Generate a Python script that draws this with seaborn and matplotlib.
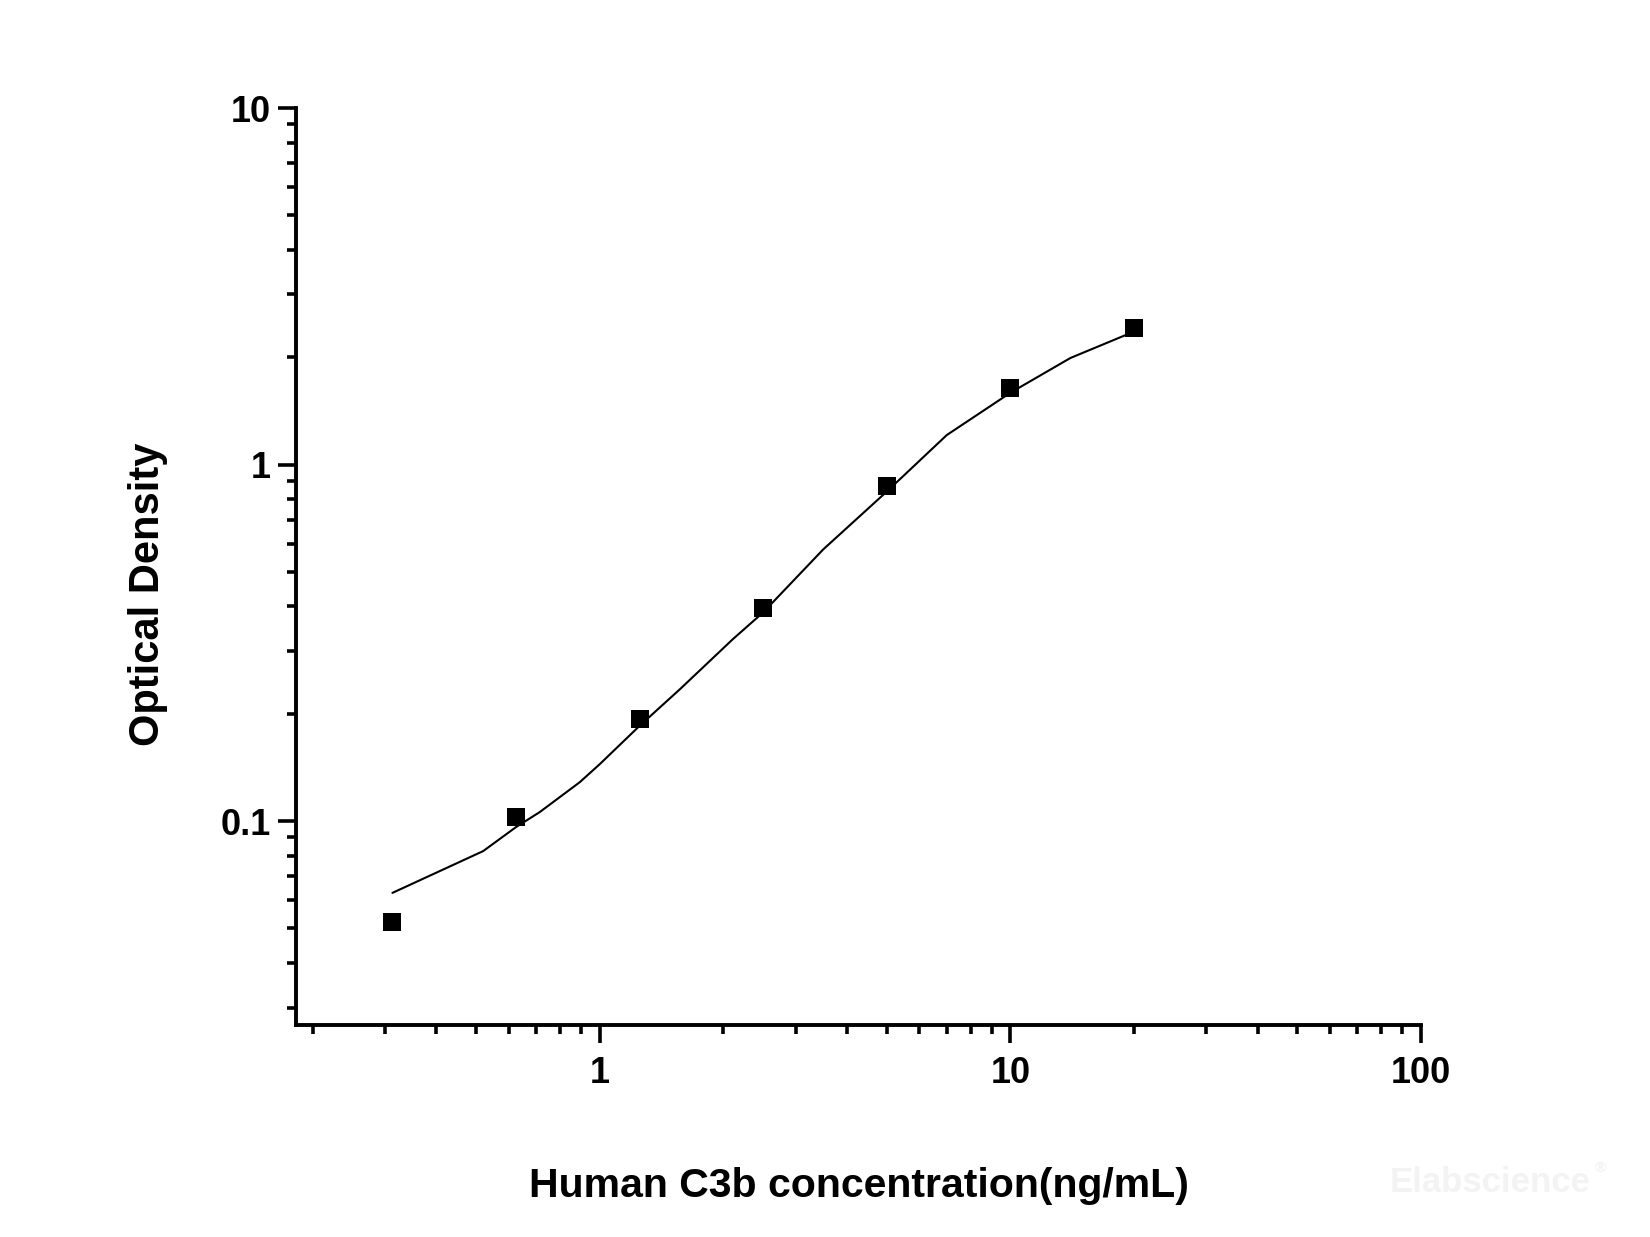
import matplotlib
matplotlib.use("Agg")
import matplotlib.pyplot as plt
import matplotlib.ticker as mticker
import seaborn as sns
import pandas as pd

# Standard points
conc = [0.3125, 0.625, 1.25, 2.5, 5, 10, 20]
od = [0.052, 0.103, 0.193, 0.395, 0.873, 1.64, 2.42]

# Fitted curve
curve_x = [0.3125, 0.52, 0.625, 0.714, 0.894, 1.0, 1.25, 1.565, 2.11, 2.5, 3.5, 5, 7, 10, 14, 20]
curve_y = [0.0629, 0.0824, 0.0962, 0.106, 0.1286, 0.1445, 0.185, 0.234, 0.324, 0.385, 0.578, 0.84, 1.21, 1.59, 1.99, 2.36]

x_ticks = [1, 10, 100]
x_tick_labels = ["1", "10", "100"]
y_ticks = [0.1, 1, 10]
y_tick_labels = ["0.1", "1", "10"]

pts = pd.DataFrame({"x": conc, "y": od})
crv = pd.DataFrame({"x": curve_x, "y": curve_y})

sns.set_style("ticks")
plt.rcParams["font.family"] = ["Liberation Sans", "DejaVu Sans"]
plt.rcParams["font.weight"] = "bold"
for k in ["text.color", "axes.labelcolor", "xtick.color", "ytick.color", "axes.edgecolor"]:
    plt.rcParams[k] = "black"

fig = plt.figure(figsize=(16.5, 12.37), dpi=100)
ax = fig.add_axes([296 / 1650, 1 - 1025 / 1237, (1421 - 296) / 1650, (1025 - 108) / 1237])

sns.lineplot(data=crv, x="x", y="y", ax=ax, color="black", linewidth=1.5, sort=False)
sns.scatterplot(data=pts, x="x", y="y", ax=ax, marker="s", s=150, color="black",
                edgecolor="black", linewidth=0, zorder=3)

ax.set_xscale("log")
ax.set_yscale("log")
ax.set_xlim(0.182, 100)
ax.set_ylim(0.0268, 10)

ax.xaxis.set_major_locator(mticker.FixedLocator(x_ticks))
ax.xaxis.set_major_formatter(mticker.FixedFormatter(x_tick_labels))
ax.yaxis.set_major_locator(mticker.FixedLocator(y_ticks))
ax.yaxis.set_major_formatter(mticker.FixedFormatter(y_tick_labels))
ax.xaxis.set_minor_locator(mticker.LogLocator(base=10, subs=range(2, 10), numticks=20))
ax.yaxis.set_minor_locator(mticker.LogLocator(base=10, subs=range(2, 10), numticks=20))
ax.xaxis.set_minor_formatter(mticker.NullFormatter())
ax.yaxis.set_minor_formatter(mticker.NullFormatter())

for s in ["top", "right"]:
    ax.spines[s].set_visible(False)
for s in ["left", "bottom"]:
    ax.spines[s].set_linewidth(2.8)
    ax.spines[s].set_color("black")

ax.tick_params(which="major", direction="out", length=13, width=2.6, color="black",
               labelsize=26, pad=5, labelcolor="black")
ax.tick_params(which="minor", direction="out", length=6.5, width=2.6, color="black")
ax.tick_params(axis="x", which="major", pad=9)
for lab in ax.get_xticklabels() + ax.get_yticklabels():
    lab.set_fontweight("bold")

ax.set_xlabel("Human C3b concentration(ng/mL)", fontsize=29.5, fontweight="bold", color="black")
ax.set_ylabel("Optical Density", fontsize=30, fontweight="bold", color="black")
ax.xaxis.set_label_coords(0.5, -0.155)
ax.yaxis.set_label_coords(-0.114, 0.47)

fig.text(1490 / 1650, 1 - 1183 / 1237, "Elabscience", fontsize=25, color="#f3f3f3",
         ha="center", va="center", fontweight="bold")
fig.text(1600 / 1650, 1 - 1168 / 1237, "®", fontsize=11, color="#f3f3f3",
         ha="center", va="center", fontweight="bold")

fig.savefig("out.png", dpi=100, facecolor="white")
